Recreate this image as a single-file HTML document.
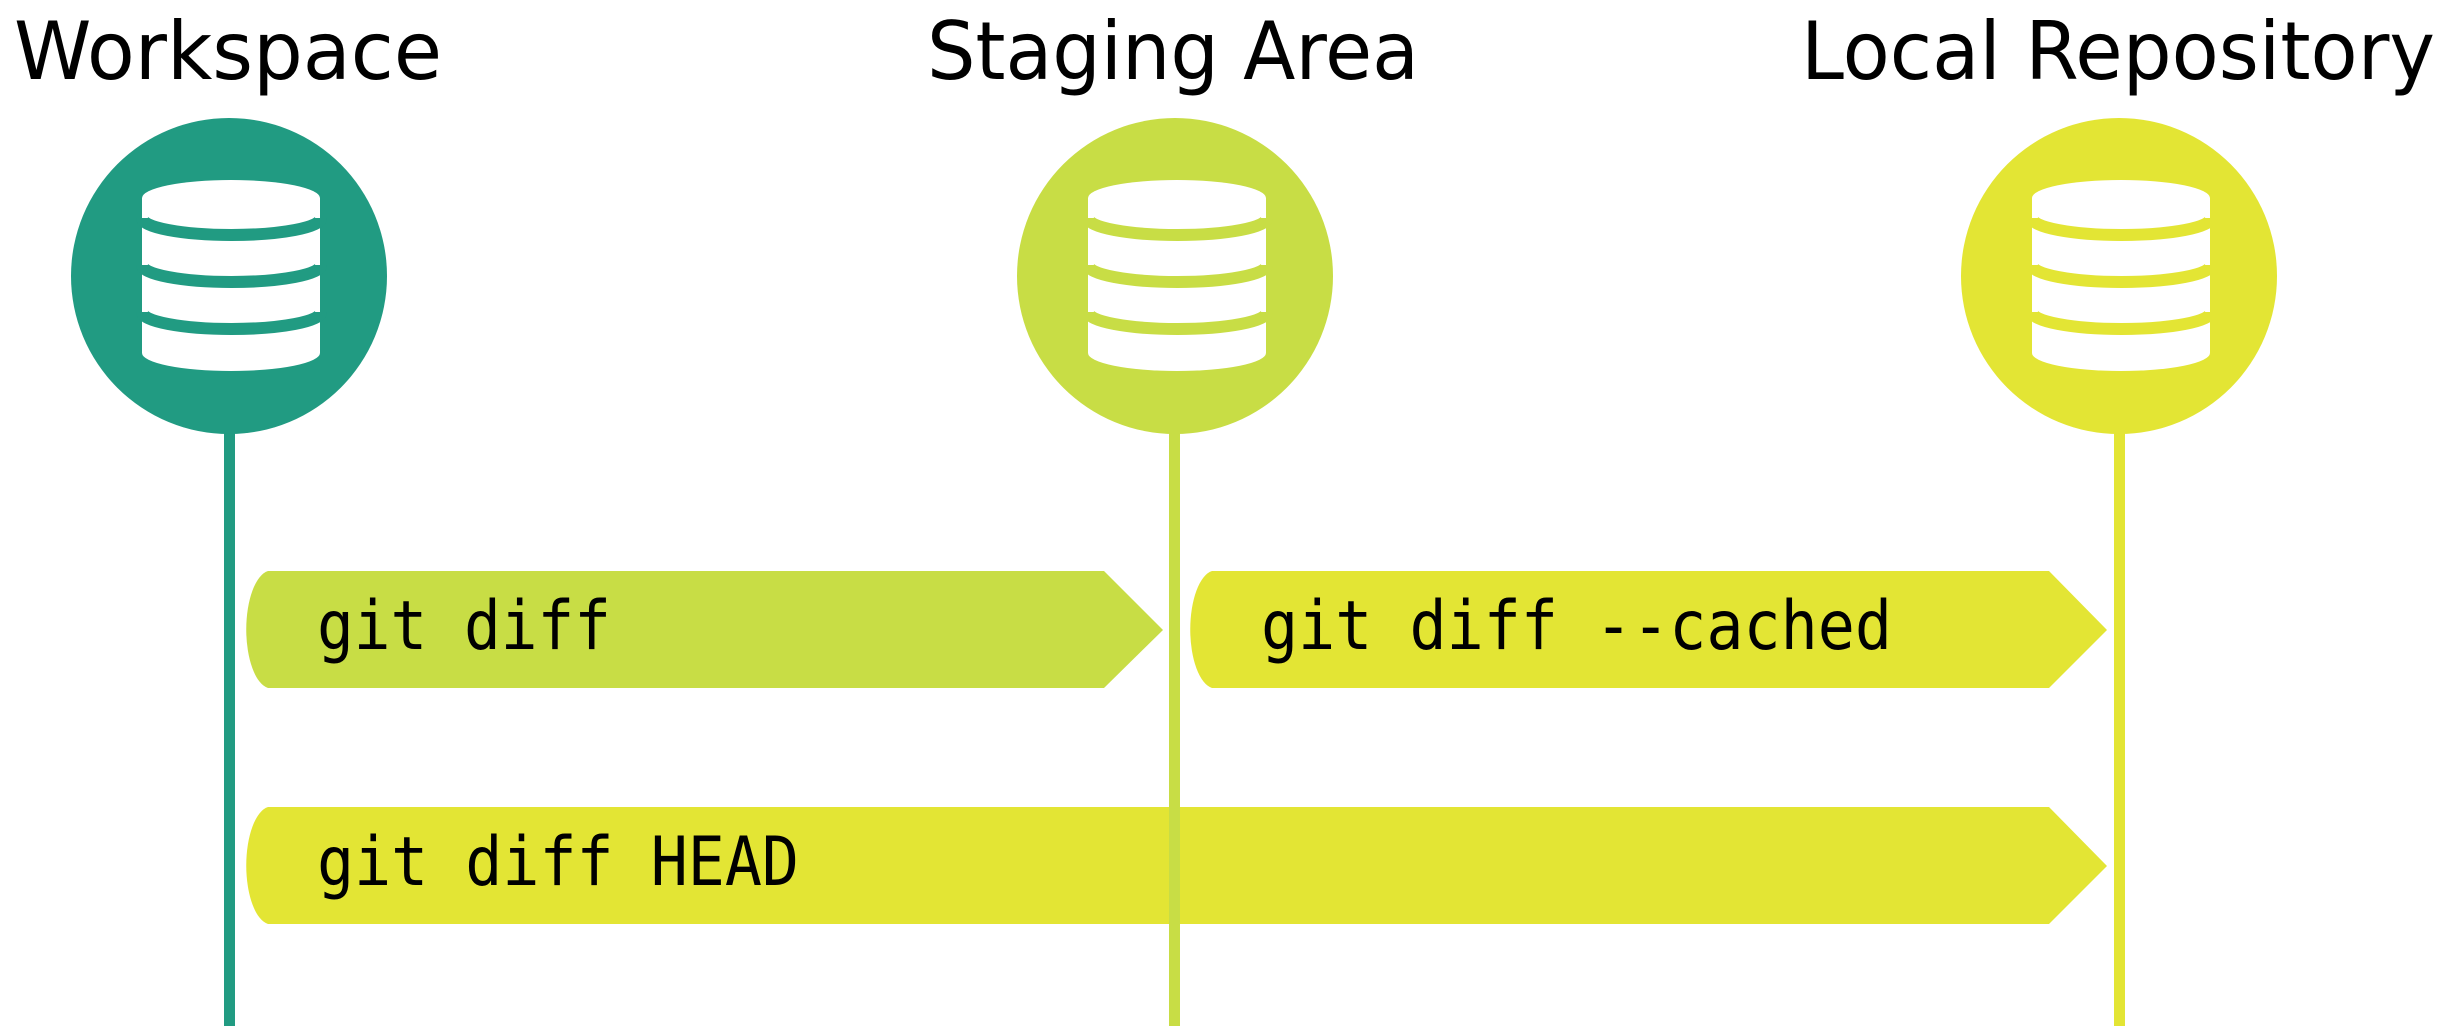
<!DOCTYPE html>
<html><head><meta charset="utf-8"><style>html,body{margin:0;padding:0;background:#fff}svg{display:block}</style></head>
<body>
<svg width="2456" height="1033" viewBox="0 0 2456 1033" xmlns="http://www.w3.org/2000/svg">
<defs>
<g id="db">
  <rect x="-89" y="198" width="178" height="155" fill="#fff"/>
  <ellipse cx="0" cy="198" rx="89" ry="18" fill="#fff"/>
  <ellipse cx="0" cy="353" rx="89" ry="18" fill="#fff"/>
</g>
</defs>
<!-- arrows -->
<path d="M268,571 L1104,571 L1163,630 L1104,688 L268,688 A25,59 0 0 1 268,571 Z" fill="#C8DD45"/>
<path d="M1212,571 L2049,571 L2107,630 L2049,688 L1212,688 A25,59 0 0 1 1212,571 Z" fill="#E3E534"/>
<path d="M268,807 L2049,807 L2107,866 L2049,924 L268,924 A25,59 0 0 1 268,807 Z" fill="#E3E534"/>
<!-- lines -->
<rect x="224" y="430" width="11" height="596" fill="#219B82"/>
<rect x="1169" y="430" width="11" height="596" fill="#C8DD45"/>
<rect x="2114" y="430" width="11" height="596" fill="#E3E534"/>
<!-- circles -->
<g>
<circle cx="229" cy="276" r="158" fill="#219B82"/>
<use href="#db" x="231"/>
<g fill="none" stroke="#219B82" stroke-width="12">
<path d="M142,218 A89.5,17 0 0 0 321,218"/><path d="M142,265 A89.5,17 0 0 0 321,265"/><path d="M142,312 A89.5,17 0 0 0 321,312"/>
</g>
</g>
<g>
<circle cx="1175" cy="276" r="158" fill="#C8DD45"/>
<use href="#db" x="1177"/>
<g fill="none" stroke="#C8DD45" stroke-width="12">
<path d="M1088,218 A89.5,17 0 0 0 1267,218"/><path d="M1088,265 A89.5,17 0 0 0 1267,265"/><path d="M1088,312 A89.5,17 0 0 0 1267,312"/>
</g>
</g>
<g>
<circle cx="2119" cy="276" r="158" fill="#E3E534"/>
<use href="#db" x="2121"/>
<g fill="none" stroke="#E3E534" stroke-width="12">
<path d="M2032,218 A89.5,17 0 0 0 2211,218"/><path d="M2032,265 A89.5,17 0 0 0 2211,265"/><path d="M2032,312 A89.5,17 0 0 0 2211,312"/>
</g>
</g>
<!-- titles -->
<g font-family="'DejaVu Sans','Liberation Sans',sans-serif" font-size="80" fill="#000">
<text x="14" y="79" textLength="428" lengthAdjust="spacingAndGlyphs">Workspace</text>
<text x="927" y="79" textLength="492" lengthAdjust="spacingAndGlyphs">Staging Area</text>
<text x="1801" y="79" textLength="634" lengthAdjust="spacingAndGlyphs">Local Repository</text>
</g>
<g font-family="'DejaVu Sans Mono','Liberation Mono',monospace" font-size="68" fill="#000">
<text x="317" y="649" textLength="294" lengthAdjust="spacingAndGlyphs">git diff</text>
<text x="1261" y="649" textLength="631" lengthAdjust="spacingAndGlyphs">git diff --cached</text>
<text x="317" y="885" textLength="482" lengthAdjust="spacingAndGlyphs">git diff HEAD</text>
</g>
</svg>
</body></html>
